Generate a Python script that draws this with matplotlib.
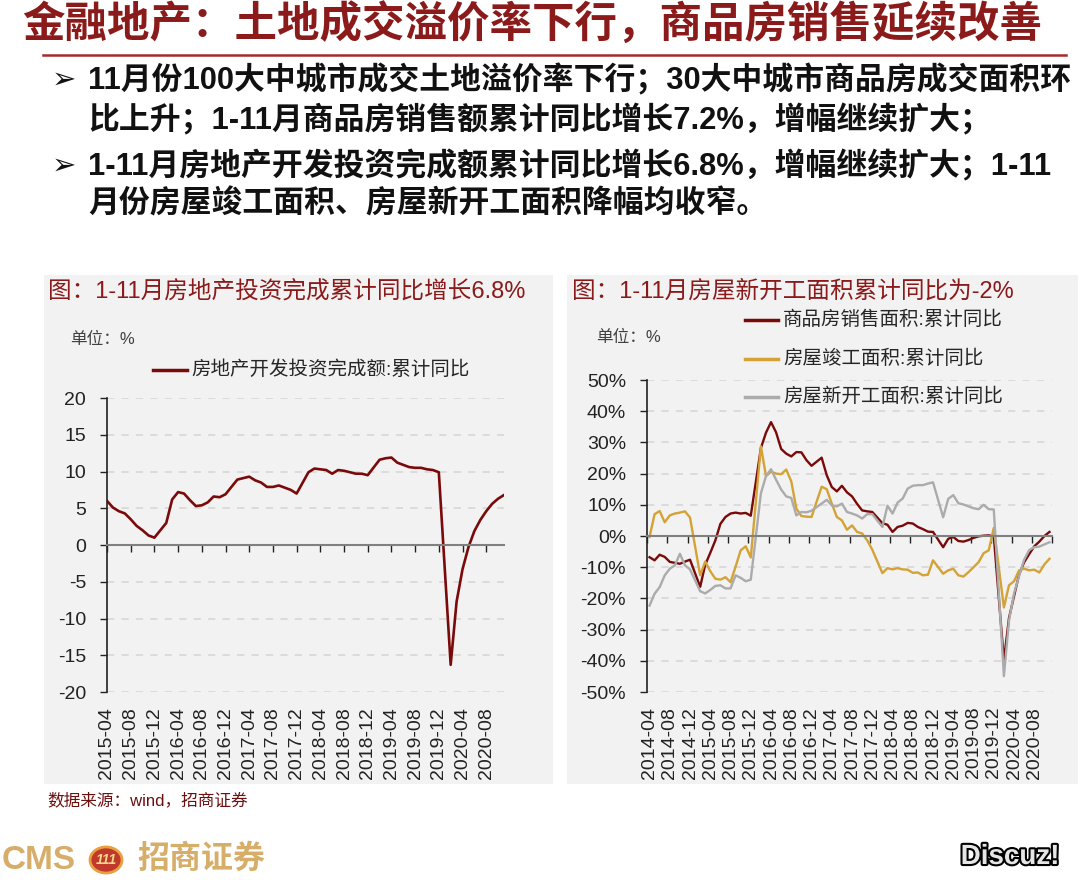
import numpy as np
import pandas as pd
import matplotlib
matplotlib.use('Agg')
from matplotlib import pyplot as plt
from matplotlib.lines import Line2D
from matplotlib.patches import Rectangle, Circle
import matplotlib.patheffects as pe

plt.rcParams['font.family'] = ['Liberation Sans', 'Noto Sans CJK SC', 'DejaVu Sans']
plt.rcParams['axes.unicode_minus'] = False

# ---- data ----
# monthly cumulative YoY, January not published (Jan-Feb combined)
inv_months = [p for p in pd.period_range('2015-04', '2020-11', freq='M') if p.month != 1]
inv_yoy = [6.0, 5.1, 4.6, 4.3, 3.5, 2.6, 2.0, 1.3, 1.0,
           3.0, 6.2, 7.2, 7.0, 6.1, 5.3, 5.4, 5.8, 6.6, 6.5, 6.9,
           8.9, 9.1, 9.3, 8.8, 8.5, 7.9, 7.9, 8.1, 7.8, 7.5, 7.0,
           9.9, 10.4, 10.3, 10.2, 9.7, 10.2, 10.1, 9.9, 9.7, 9.7, 9.5,
           11.6, 11.8, 11.9, 11.2, 10.9, 10.6, 10.5, 10.5, 10.3, 10.2, 9.9,
           -16.3, -7.7, -3.3, -0.3, 1.9, 3.4, 4.6, 5.6, 6.3, 6.8]
inv_ticks = [str(p) for p in pd.period_range('2015-04', '2020-08', freq='4M')]

area_months = [p for p in pd.period_range('2014-04', '2020-11', freq='M') if p.month != 1]
sales_area_yoy = [-6.8, -7.8, -6.0, -6.7, -8.3, -8.6, -8.9, -8.2, -7.6,
                  -16.3, -9.2, -5.4, -1.4, 3.9, 6.1, 7.2, 7.5, 7.2, 7.4, 6.5,
                  28.2, 33.1, 36.5, 33.2, 27.9, 26.4, 25.5, 26.9, 26.8, 24.3, 22.5,
                  25.1, 19.5, 15.7, 14.3, 16.1, 14.0, 12.7, 10.3, 8.2, 7.9, 7.7,
                  4.1, 3.6, 1.3, 2.9, 3.3, 4.2, 4.0, 2.9, 2.2, 1.4, 1.3,
                  -3.6, -0.9, -0.3, -1.6, -1.8, -1.3, -0.6, -0.1, 0.1, 0.2, -0.1,
                  -39.9, -26.3, -19.3, -12.3, -8.4, -5.8, -3.3, -1.8, 0.0, 1.3]
completed_yoy = [-0.3, 7.0, 8.0, 4.4, 6.6, 7.2, 7.5, 7.9, 5.9,
                 -12.6, -8.2, -11.3, -13.7, -14.0, -13.2, -14.8, -9.8, -4.6, -3.3, -6.9,
                 28.8, 19.2, 20.6, 20.0, 19.8, 21.3, 17.5, 8.8, 6.4, 6.2, 6.1,
                 15.8, 15.0, 10.4, 6.1, 5.0, 2.0, 3.4, 1.3, 0.8, -1.4, -4.4,
                 -11.9, -10.3, -10.7, -10.3, -10.7, -10.8, -11.8, -11.7, -12.6, -12.4, -7.8,
                 -12.1, -11.0, -10.5, -12.6, -13.0, -11.6, -10.0, -8.4, -5.5, -4.6, 2.6,
                 -22.9, -15.8, -14.5, -11.0, -10.5, -11.0, -10.8, -11.7, -9.1, -7.3]
new_start_yoy = [-22.3, -18.5, -16.4, -12.6, -10.5, -9.4, -5.7, -9.4, -10.7,
                 -17.7, -18.4, -17.3, -16.0, -15.8, -16.8, -16.8, -12.6, -13.4, -14.5, -14.0,
                 13.7, 19.2, 21.4, 18.0, 14.9, 12.7, 12.2, 6.6, 7.7, 7.6, 8.1,
                 10.4, 11.6, 9.8, 9.5, 10.4, 7.7, 7.2, 6.6, 5.6, 7.0, 7.0,
                 2.9, 9.7, 7.2, 10.7, 12.0, 15.2, 16.1, 16.3, 16.3, 16.8, 17.2,
                 6.0, 11.9, 13.1, 10.5, 10.1, 9.5, 8.9, 8.6, 10.0, 8.6, 8.5,
                 -44.9, -27.2, -18.4, -12.8, -7.6, -4.5, -3.6, -3.4, -2.7, -2.0]
area_ticks = [str(p) for p in pd.period_range('2014-04', '2020-08', freq='4M')]

series_names = ['商品房销售面积:累计同比', '房屋竣工面积:累计同比', '房屋新开工面积:累计同比']
series_colors = ['#7A0A0A', '#D4A235', '#ABABAB']

W, H = 1080, 880
RED = '#8B1A1A'


def fx(px):
    return px / W


def fy(py):
    return 1 - py / H


def box(x0, y0, x1, y1):
    return [x0 / W, 1 - y1 / H, (x1 - x0) / W, (y1 - y0) / H]


def month_pos(months, start):
    return np.array([(p - pd.Period(start, freq='M')).n for p in months], dtype=float)


def style_axes(ax, lo, hi, step):
    ax.set_facecolor('none')
    ax.spines['top'].set_visible(False)
    ax.spines['right'].set_visible(False)
    ax.spines['left'].set_color('#222222')
    ax.spines['left'].set_linewidth(1.2)
    ax.spines['bottom'].set_position(('data', 0))
    ax.spines['bottom'].set_color('#808080')
    ax.spines['bottom'].set_linewidth(1.5)
    ax.set_ylim(lo, hi)
    ax.set_yticks(np.arange(lo, hi + 1, step))
    ax.yaxis.grid(True, color='#D9D9D9', linestyle=(0, (4, 4)), linewidth=1.3)
    ax.set_axisbelow(True)
    ax.tick_params(axis='y', direction='out', length=5, width=1, colors='#222222',
                   pad=10, labelsize=14)


fig = plt.figure(figsize=(W / 100, H / 100), dpi=100)

# header
fig.text(fx(22), fy(25), '金融地产：土地成交溢价率下行，商品房销售延续改善',
         fontsize=30.6, fontweight='bold', color=RED, va='center', ha='left')
fig.add_artist(Line2D([fx(43), fx(1066)], [fy(55), fy(55)], color='#A52A2A', lw=1.8))

bullets = [
    (80, '11月份100大中城市成交土地溢价率下行；30大中城市商品房成交面积环', True),
    (120, '比上升；1-11月商品房销售额累计同比增长7.2%，增幅继续扩大；', False),
    (166, '1-11月房地产开发投资完成额累计同比增长6.8%，增幅继续扩大；1-11', True),
    (204, '月份房屋竣工面积、房屋新开工面积降幅均收窄。', False),
]
for yy, txt, arrow in bullets:
    if arrow:
        fig.text(fx(52), fy(yy), '➢', fontsize=21, color='#111111', va='center',
                 family=['DejaVu Sans'])
    fig.text(fx(88), fy(yy), txt, fontsize=22.2, fontweight='bold', color='#111111',
             va='center', ha='left')

# panels
fig.add_artist(Rectangle((fx(44), fy(784)), 509 / W, 509 / H, transform=fig.transFigure,
                         facecolor='#F2F2F2', edgecolor='none', zorder=-1))
fig.add_artist(Rectangle((fx(567), fy(784)), 511 / W, 509 / H, transform=fig.transFigure,
                         facecolor='#F2F2F2', edgecolor='none', zorder=-1))

# ---- left chart ----
fig.text(fx(48), fy(291), '图：1-11月房地产投资完成累计同比增长6.8%', fontsize=17,
         color=RED, va='center')
fig.text(fx(70), fy(339), '单位：%', fontsize=12, color='#404040', va='center')
fig.add_artist(Line2D([fx(153), fx(187)], [fy(370), fy(370)], color=series_colors[0], lw=2.5))
fig.text(fx(191), fy(370), '房地产开发投资完成额:累计同比', fontsize=14, color='#262626',
         va='center')

ax1 = fig.add_axes(box(107, 398, 504, 692))
style_axes(ax1, -20, 20, 5)
x1 = month_pos(inv_months, '2015-04')
ax1.plot(x1, inv_yoy, color=series_colors[0], lw=1.9, solid_joinstyle='round')
ax1.set_xlim(0, 67)
ax1.set_xticks(np.arange(0, 65, 4))
ax1.set_xticklabels(inv_ticks, rotation=90, fontsize=14)
ax1.tick_params(axis='x', direction='out', length=5, width=1, colors='#222222', pad=112)

# ---- right chart ----
fig.text(fx(572), fy(291), '图：1-11月房屋新开工面积累计同比为-2%', fontsize=17,
         color=RED, va='center')
fig.text(fx(596), fy(337), '单位：%', fontsize=12, color='#404040', va='center')
for k, (name, col) in enumerate(zip(series_names, series_colors)):
    yy = 320 + 38.5 * k
    fig.add_artist(Line2D([fx(745), fx(778)], [fy(yy), fy(yy)], color=col, lw=2.5))
    fig.text(fx(783), fy(yy), name, fontsize=14, color='#262626', va='center')

ax2 = fig.add_axes(box(647, 380, 1052, 692))
style_axes(ax2, -50, 50, 10)
ax2.yaxis.set_major_formatter(matplotlib.ticker.FuncFormatter(lambda v, _: f'{v:.0f}%'))
x2 = month_pos(area_months, '2014-04') + 0.5
for vals, col in zip([sales_area_yoy, completed_yoy, new_start_yoy], series_colors):
    ax2.plot(x2, vals, color=col, lw=1.7, solid_joinstyle='round')
ax2.set_xlim(0, 80)
ax2.set_xticks(np.arange(0, 81, 4))
ax2.set_xticklabels([])
ax2.set_xticks(np.arange(0, 77, 4) + 0.5, minor=True)
ax2.set_xticklabels(area_ticks, minor=True, rotation=90, fontsize=14)
ax2.tick_params(axis='x', which='major', direction='out', length=5, width=1, colors='#222222')
ax2.tick_params(axis='x', which='minor', length=0, pad=123, colors='#222222')

# footer
fig.text(fx(47), fy(800), '数据来源：wind，招商证券', fontsize=12, color='#6B0F0F',
         va='center')
GOLD = '#D6AE6A'
fig.text(fx(2), fy(860), 'CMS', fontsize=24, color=GOLD, va='center', fontweight='bold')
fig.add_artist(Circle((fx(106), fy(860)), 16 / W, transform=fig.transFigure,
                      facecolor='#C0392B', edgecolor='#E8A040', lw=2))
fig.text(fx(106), fy(860), '111', fontsize=10, color='#F5D78E', va='center', ha='center',
         fontweight='bold', style='italic')
fig.text(fx(137), fy(860), '招商证券', fontsize=23, color=GOLD, va='center', fontweight='bold')
fig.text(fx(1010), fy(857), 'Discuz!', fontsize=20, color='#E6E6E6', va='center',
         ha='center', fontweight='bold',
         path_effects=[pe.withStroke(linewidth=3, foreground='black')])

fig.savefig('out.png', dpi=100)
